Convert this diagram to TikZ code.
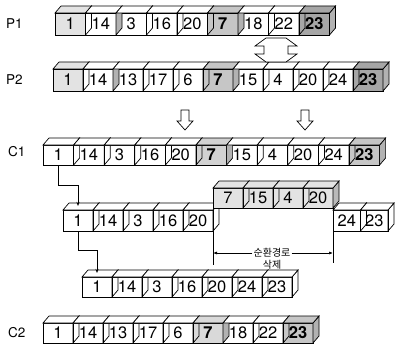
\documentclass[tikz,border=0pt]{standalone}
\usepackage{fontspec}
\setmainfont{TeX Gyre Heros}
\newfontfamily\korfont{Noto Sans CJK KR}
\usetikzlibrary{arrows.meta,calc}
\tikzset{
  cubefront/.style={draw, line width=0.7pt, outer sep=0pt, inner sep=0pt, font=\fontsize{16.5}{16.5}\selectfont},
  face/.style={line width=0.7pt},
  lab/.style={font=\fontsize{13.5}{13.5}\selectfont, anchor=west, inner sep=0pt},
  conn/.style={line width=0.7pt},
  hollow/.style={line width=0.7pt, fill=white},
  kor/.style={font=\korfont\fontsize{10}{10}\selectfont, inner sep=1pt}
}
% #1 prefix, #2 x0, #3 top of front, #4 width, #5 height, #6 list text/frontfill/sidefill
\newcommand\cuberow[6]{%
  \foreach \t/\ff/\sf [count=\i] in {#6} {
    \node[cubefront, minimum width=#4pt, minimum height=#5pt, fill=\ff, anchor=north west] (#1-\i) at ({#2+(\i-1)*#4},#3) {\t};
  }
  \foreach \t/\ff/\sf [count=\i] in {#6} {
    \draw[face, fill=\sf] (#1-\i.north east) -- ++(6,-7) -- ++(0,#5) -- (#1-\i.south east) -- cycle;
    \draw[face, fill=\ff] (#1-\i.north west) -- ++(6,-7) -- ++(#4,0) -- (#1-\i.north east) -- cycle;
  }
}
\begin{document}
\begin{tikzpicture}[x=1pt,y=-1pt]
\useasboundingbox (0,0) rectangle (396,345);

% labels
\node[lab] (lp1) at (6,24) {P1};
\node[lab] (lp2) at (6,80) {P2};
\node[lab] (lc1) at (8,152) {C1};
\node[lab] (lc2) at (8,333) {C2};

% rows
\cuberow{p1}{55}{13}{30.5}{22}{1/gray!22/none, 14/white/gray!60, 3/white/none, 16/white/none, 20/white/none, \textbf{7}/gray!45/gray!60, 18/white/none, 22/white/none, \textbf{23}/gray!70/gray!60}
\cuberow{p2}{53}{69}{30}{22}{1/gray!22/none, 14/white/gray!60, 13/white/none, 17/white/none, 6/white/none, \textbf{7}/gray!45/gray!60, 15/white/none, 4/white/none, 20/white/none, 24/white/none, \textbf{23}/gray!70/gray!60}
\cuberow{c1}{43}{145}{30.6}{20}{1/white/none, 14/white/none, 3/white/none, 16/white/none, 20/white/none, \textbf{7}/gray!35/gray!60, 15/white/none, 4/white/none, 20/white/none, 24/white/none, \textbf{23}/gray!45/gray!60}
\cuberow{m}{63}{210}{30}{21}{1/white/none, 14/white/none, 3/white/none, 16/white/none, 20/white/none}
\cuberow{r}{333}{210}{27.5}{21}{24/white/none, 23/white/none}
\cuberow{k}{213}{188}{30}{20}{7/gray!22/none, 15/gray!22/none, 4/gray!22/none, 20/gray!22/gray!55}
\cuberow{b}{82}{277}{30}{20}{1/white/none, 14/white/none, 3/white/none, 16/white/none, 20/white/none, 24/white/none, 23/white/none}
\cuberow{c2}{43}{323}{30}{20}{1/white/none, 14/white/none, 13/white/none, 17/white/none, 6/white/none, \textbf{7}/gray!30/gray!60, 18/white/none, 22/white/none, \textbf{23}/gray!45/gray!60}

% double hollow arrow P1 <-> P2
\draw[hollow] (255,46) -- (266,38) -- (286,38) -- (297,46) -- (288,46) -- (288,54) -- (297,54) -- (286,62) -- (266,62) -- (255,54) -- (264,54) -- (264,46) -- cycle;

% hollow down arrows
\draw[hollow] (181,110) -- (189,110) -- (189,121) -- (193,121) -- (185,130) -- (177,121) -- (181,121) -- cycle;
\draw[hollow] (301,110) -- (309,110) -- (309,121) -- (313,121) -- (305,130) -- (297,121) -- (301,121) -- cycle;

% connectors
\coordinate (j1) at (78,185);
\draw[conn,-{Stealth[length=4pt,width=3pt]}] (c1-1.south) |- (j1) -- ($(m-1.north)+(0,-4)$);
\coordinate (j2) at (97,250);
\draw[conn,-{Stealth[length=4pt,width=3pt]}] (m-1.south) |- (j2) -- ($(b-1.north)+(0,-4)$);

% cycle-removal bracket
\draw[conn] (m-5.south east) -- ++(0,34);
\draw[conn] (r-1.south west) -- ++(0,32);
\node[kor] (kt1) at (272,253) {순환경로};
\node[kor] (kt2) at (272,265) {삭제};
\draw[conn,-{Latex[length=4pt,width=3pt]}] (kt1.west) -- (kt1.west -| m-5.east);
\draw[conn,-{Latex[length=4pt,width=3pt]}] (kt1.east) -- (kt1.east -| r-1.west);
\end{tikzpicture}
\end{document}
